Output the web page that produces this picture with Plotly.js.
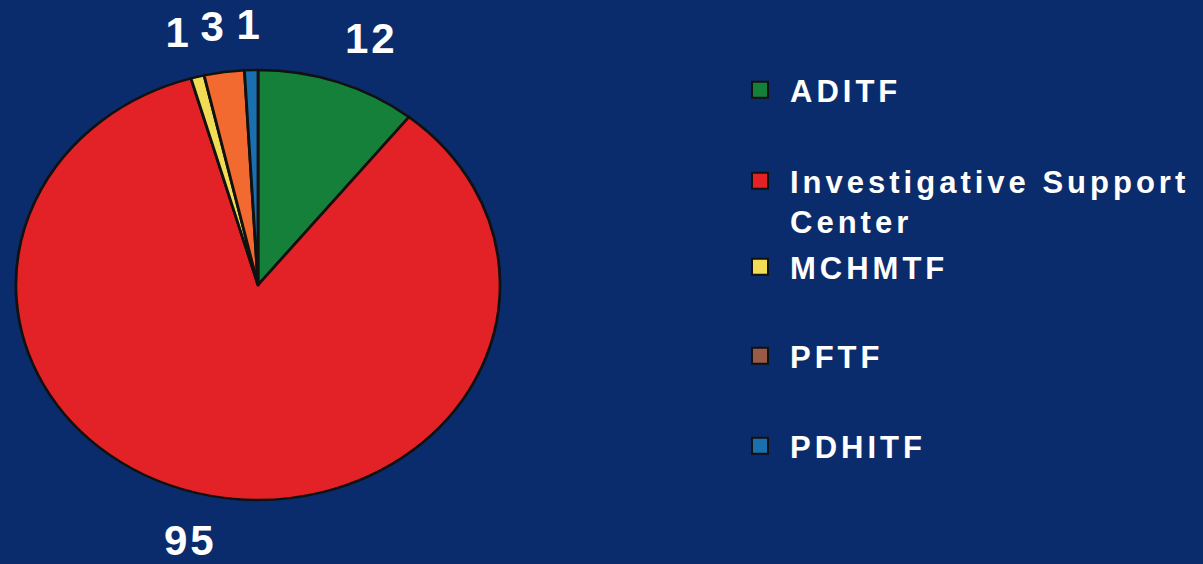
<!DOCTYPE html>
<html>
<head>
<meta charset="utf-8">
<script src="https://cdn.plot.ly/plotly-3.0.1.min.js"></script>
<style>
  html, body { margin: 0; padding: 0; background: #0b2c6c; }
  #chart { width: 1203px; height: 564px; }
  .infolayer g text { letter-spacing: 4px; }
  .infolayer g.annotation text.annotation-text { letter-spacing: 3px; }
</style>
</head>
<body>
<div id="chart"></div>
<script>
// ---- data ----
const categories = ["ADITF", "Investigative Support Center", "MCHMTF", "PFTF", "PDHITF"];
const legendLabels = ["ADITF", "Investigative Support<br>Center", "MCHMTF", "PFTF", "PDHITF"];
const values = [12, 95, 1, 3, 1];
const sliceColors = ["#15803a", "#e32228", "#f0dc55", "#f26a30", "#1a6fae"];
const legendColors = ["#15803a", "#e32228", "#f0dc55", "#9a5a48", "#1a6fae"];

// ---- layout constants ----
const W = 1203, H = 564;
const CX = 258, CY = 285, R = 215, SX = 1.126;
const LABEL_R = 261;
const DIGIT_W = 25;
const legendTops = [63, 154, 240, 329, 419];

const pie = {
  type: "pie",
  labels: categories,
  values: values,
  sort: false,
  direction: "clockwise",
  rotation: 0,
  textinfo: "none",
  hoverinfo: "none",
  showlegend: false,
  marker: { colors: sliceColors, line: { color: "#111111", width: 2.5 } },
  domain: { x: [(CX - R) / W, (CX + R) / W], y: [(H - CY - R) / H, (H - CY + R) / H] }
};

const legendTraces = categories.map((c, i) => ({
  type: "scatter",
  mode: "markers",
  x: [null], y: [null],
  name: legendLabels[i],
  hoverinfo: "none",
  legend: i === 0 ? "legend" : "legend" + (i + 1),
  marker: { symbol: "square", size: 16, color: legendColors[i], line: { color: "#111111", width: 2 } },
  showlegend: true
}));

// value labels placed from slice mid-angles
const total = values.reduce((a, b) => a + b, 0);
let cum = 0;
const annotations = values.map((v) => {
  const mid = (cum + v / 2) / total * 2 * Math.PI;
  cum += v;
  const w = String(v).length * DIGIT_W;
  const px = CX + LABEL_R * SX * Math.sin(mid) + w * Math.sin(mid);
  const py = CY - LABEL_R * Math.cos(mid);
  return {
    text: String(v), xref: "paper", yref: "paper",
    x: px / W, y: 1 - py / H, xanchor: "center", yanchor: "middle",
    showarrow: false,
    font: { family: "Liberation Sans, Arial, sans-serif", size: 42, color: "#ffffff", weight: "bold" }
  };
});

const layout = {
  width: W, height: H,
  margin: { l: 0, r: 0, t: 0, b: 0 },
  paper_bgcolor: "#0b2c6c",
  plot_bgcolor: "rgba(0,0,0,0)",
  xaxis: { visible: false, showgrid: false, zeroline: false },
  yaxis: { visible: false, showgrid: false, zeroline: false },
  annotations: annotations,
  showlegend: true
};
legendTops.forEach((t, i) => {
  const key = i === 0 ? "legend" : "legend" + (i + 1);
  layout[key] = {
    x: 730 / W, y: 1 - t / H, xanchor: "left", yanchor: "top",
    valign: "top", itemwidth: 50,
    bgcolor: "rgba(0,0,0,0)", borderwidth: 0,
    font: { family: "Liberation Sans, Arial, sans-serif", size: 31, color: "#ffffff", weight: "bold" }
  };
});

Plotly.newPlot("chart", [pie].concat(legendTraces), layout, { staticPlot: true, displayModeBar: false }).then(gd => {
  const cd = gd.calcdata[0][0];
  const cx = cd.cx, cy = cd.cy;
  const tr = gd.querySelector(".pielayer .trace");
  if (tr) tr.setAttribute("transform", `translate(${cx},${cy}) scale(${SX},1) translate(${-cx},${-cy})`);
  // legend text is letter-spaced by CSS, so let it extend past the measured legend box
  gd.querySelectorAll(".infolayer [clip-path]").forEach(el => el.removeAttribute("clip-path"));
});
</script>
</body>
</html>
